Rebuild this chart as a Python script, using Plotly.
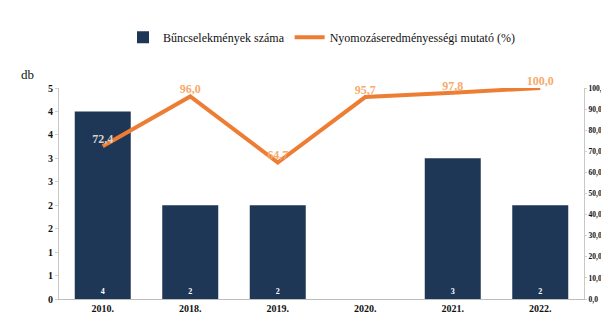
import plotly.graph_objects as go

years = ["2010.", "2018.", "2019.", "2020.", "2021.", "2022."]
crimes = [4, 2, 2, 0, 3, 2]
crime_labels = ["4", "2", "2", "", "3", "2"]
rate = [72.4, 96.0, 64.7, 95.7, 97.8, 100.0]
left_tickvals = [0, 0.5, 1, 1.5, 2, 2.5, 3, 3.5, 4, 4.5]
left_ticktext = ["0", "1", "1", "2", "2", "3", "3", "4", "4", "5"]
right_tickvals = [0, 10, 20, 30, 40, 50, 60, 70, 80, 90, 100]

rate_text = [f"{v:.1f}".replace(".", ",") for v in rate]
right_ticktext = [f"{v:.1f}".replace(".", ",") for v in right_tickvals]

serif = "Liberation Serif, Times New Roman, serif"

fig = go.Figure()
fig.add_trace(go.Bar(
    x=years, y=crimes, name="Bűncselekmények száma",
    marker=dict(color="#1F3756", line=dict(color="#0E1B2B", width=0)),
    text=crime_labels, textposition="inside", insidetextanchor="start",
    textfont=dict(family=serif, size=8, color="white", weight="bold"),
    cliponaxis=False,
))
fig.add_trace(go.Scatter(
    x=years, y=rate, name="Nyomozáseredményességi mutató (%)", yaxis="y2",
    mode="lines+text", line=dict(color="#EE7D34", width=4),
    text=rate_text, textposition="top center",
    textfont=dict(family=serif, size=12, weight="bold",
                  color=["#D8D2CC", "#F6AA6E", "#F6AA6E", "#F6AA6E", "#F6AA6E", "#F6AA6E"]),
    cliponaxis=False,
))

tickf = dict(family=serif, size=10, color="#111111", weight="bold")

fig.update_layout(
    width=609, height=317,
    margin=dict(l=51, r=33, t=80, b=26),
    paper_bgcolor="white", plot_bgcolor="white",
    bargap=0.36,
    showlegend=True,
    legend=dict(orientation="h", x=0.5, xanchor="center", y=1.24, yanchor="middle",
                font=dict(family=serif, size=12, color="#111111")),
    font=dict(family=serif, color="#111111"),
    xaxis=dict(tickvals=years, ticktext=years, showline=True, linecolor="#BDBDBD", linewidth=1,
               ticks="", tickfont=tickf, showgrid=False, automargin=False),
    yaxis=dict(range=[0, 4.5], tickvals=left_tickvals, ticktext=left_ticktext,
               showline=True, linecolor="#C8C8C8", linewidth=1, ticks="outside", ticklen=3,
               tickcolor="#D0D0D0", showgrid=False, zeroline=False,
               tickfont=tickf, automargin=False),
    yaxis2=dict(range=[0, 100], tickvals=right_tickvals, ticktext=right_ticktext,
                overlaying="y", side="right", showline=True, linecolor="#C8C8C8", linewidth=1,
                ticks="outside", ticklen=2, tickcolor="#D0D0D0", showgrid=False, zeroline=False,
                tickfont=dict(family=serif, size=7.5, color="#111111", weight="bold"),
                automargin=False),
    annotations=[
        dict(text="db", xref="paper", yref="paper", x=-0.06, y=1.065, xanchor="center",
             yanchor="middle", showarrow=False, font=dict(family=serif, size=13, color="#111111")),
        dict(text="%", xref="paper", yref="paper", x=1.04, y=1.12, xanchor="center",
             yanchor="middle", showarrow=False, font=dict(family=serif, size=11, color="#111111")),
    ],
)

fig.write_html("out.html")
